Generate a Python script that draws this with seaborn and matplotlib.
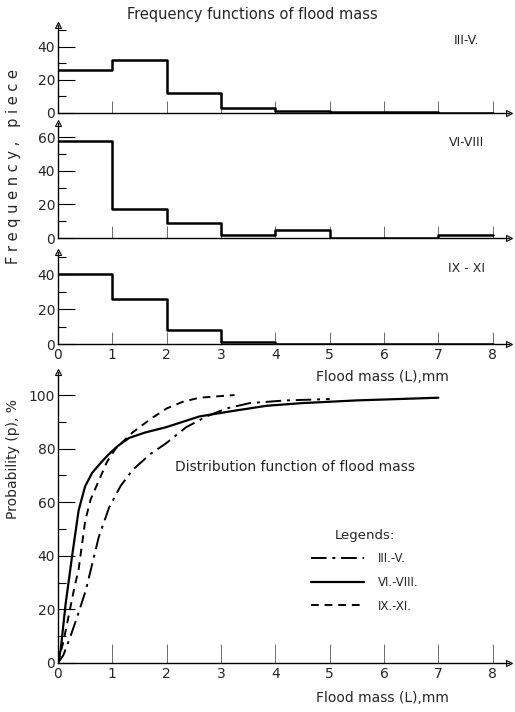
import numpy as np
import pandas as pd
import matplotlib
matplotlib.use("Agg")
import matplotlib.pyplot as plt
import seaborn as sns
from matplotlib.ticker import MultipleLocator

# frequency of flood mass per 1 mm class (pieces)
bin_edges = [0, 1, 2, 3, 4, 5, 6, 7, 8]
freq_3_5 = [26, 32, 12, 3, 1, 0.5, 0.5, 0]
freq_6_8 = [58, 17, 9, 2, 5, 0, 0, 1.5]
freq_9_11 = [40, 26, 8, 1, 0, 0, 0, 0]
panel_labels = ["III-V.", "VI-VIII", "IX - XI"]

# distribution functions
x_3_5 = [0, 0.1, 0.23, 0.35, 0.51, 0.63, 0.75, 0.94, 1.15, 1.37, 1.7, 1.99, 2.36, 2.73, 3.1, 3.53, 4.2, 5.0]
p_3_5 = [0, 3, 10, 17, 27, 37, 47, 58, 66, 72, 78, 82, 88, 92, 95, 97, 98, 98.5]
x_6_8 = [0, 0.05, 0.14, 0.26, 0.38, 0.5, 0.63, 0.8, 0.94, 1.1, 1.31, 1.6, 1.99, 2.6, 3.2, 3.84, 4.5, 5.5, 7.0]
p_6_8 = [0, 5, 22, 40, 57, 66, 71, 75, 78, 81, 84, 86, 88, 92, 94, 96, 97, 98, 99]
x_9_11 = [0, 0.1, 0.2, 0.3, 0.38, 0.5, 0.6, 0.75, 0.9, 1.06, 1.37, 1.7, 2.0, 2.3, 2.6, 3.25]
p_9_11 = [0, 8, 18, 28, 35, 53, 61, 68, 75, 80, 86, 91, 95, 97.5, 99, 100]
legend_labels = ["III.-V.", "VI.-VIII.", "IX.-XI."]

sns.set_style("white")
plt.rcParams["font.family"] = ["DejaVu Sans"]

W, H = 515, 712
fig = plt.figure(figsize=(W / 100, H / 100), dpi=100)


def add_ax(left, right, top, bottom):
    ax = fig.add_axes([left / W, 1 - bottom / H, (right - left) / W, (bottom - top) / H])
    ax.patch.set_alpha(0)
    return ax


def style_axis(ax, ymax, ystep, xtick_len):
    ax.set_xlim(0, 8.3)
    ax.set_ylim(0, ymax)
    for s in ["top", "right"]:
        ax.spines[s].set_visible(False)
    for s in ["left", "bottom"]:
        ax.spines[s].set_linewidth(1.0)
        ax.spines[s].set_color("black")
    ax.set_xticks(range(0, 9))
    ax.yaxis.set_major_locator(MultipleLocator(ystep))
    ax.yaxis.set_minor_locator(MultipleLocator(ystep / 2))
    ax.tick_params(axis="y", which="both", left=True, direction="in", width=0.8, color="black")
    ax.tick_params(axis="y", which="major", length=12, labelsize=10, pad=2)
    ax.tick_params(axis="y", which="minor", length=6)
    ax.tick_params(axis="x", which="major", bottom=True, direction="in", length=xtick_len,
                   width=0.6, color="#555555", labelsize=10, pad=3)
    # arrow heads on the axis ends
    ax.plot([0], [1], marker="^", ms=5, mfc="white", mec="black", mew=0.8,
            transform=ax.transAxes, clip_on=False)
    ax.plot([1], [0], marker=">", ms=5, mfc="white", mec="black", mew=0.8,
            transform=ax.transAxes, clip_on=False)
    ax.set_xlabel("")
    ax.set_ylabel("")


panels = [
    (freq_3_5, 25, 113, 53),
    (freq_6_8, 123, 238, 68.5),
    (freq_9_11, 252, 344, 52.6),
]
centers = [e + 0.5 for e in bin_edges[:-1]]
for i, (freq, top, bottom, ymax) in enumerate(panels):
    ax = add_ax(58, 509, top, bottom)
    sns.histplot(x=centers, weights=freq, bins=bin_edges, element="step", fill=False,
                 color="black", linewidth=1.8, ax=ax)
    style_axis(ax, ymax, 20, 9)
    ax.text(0.905, 0.82 if i != 1 else 0.83, panel_labels[i], transform=ax.transAxes,
            ha="center", va="center", fontsize=9)
    if i < 2:
        ax.set_xticklabels([])
    else:
        ax.set_xlabel("Flood mass (L),mm", fontsize=10)
        ax.xaxis.set_label_coords(0.72, -0.28)

fig.text(252 / W, 1 - 15 / H, "Frequency functions of flood mass", ha="center", va="center", fontsize=10.5)
fig.text(14 / W, 1 - 166 / H, "F r e q u e n c y ,   p i e c e", rotation=90,
         ha="center", va="center", fontsize=10.5)

# distribution functions
ax = add_ax(58, 509, 372, 663)
sns.lineplot(x=x_3_5, y=p_3_5, color="black", linewidth=1.4, ax=ax, label=legend_labels[0],
             linestyle=(0, (8, 3, 1.5, 3)))
sns.lineplot(x=x_6_8, y=p_6_8, color="black", linewidth=1.6, ax=ax, label=legend_labels[1],
             linestyle="-")
sns.lineplot(x=x_9_11, y=p_9_11, color="black", linewidth=1.4, ax=ax, label=legend_labels[2],
             linestyle=(0, (4, 3)))
style_axis(ax, 108.6, 20, 14)
ax.set_xlabel("Flood mass (L),mm", fontsize=10)
ax.xaxis.set_label_coords(0.72, -0.095)
ax.set_ylabel("Probability (p), %", fontsize=10)
ax.yaxis.set_label_coords(-0.085, 0.70)
ax.text((295 - 58) / 451, (663 - 467) / 291, "Distribution function of flood mass",
        transform=ax.transAxes, ha="center", va="center", fontsize=10)
leg = ax.legend(title="Legends:", loc="upper left", bbox_to_anchor=((300 - 58) / 451, (663 - 518) / 291),
                frameon=False, fontsize=8.5, title_fontsize=9.5, handlelength=4.5,
                handletextpad=1.2, labelspacing=0.9)

fig.savefig("out.png", dpi=100)
